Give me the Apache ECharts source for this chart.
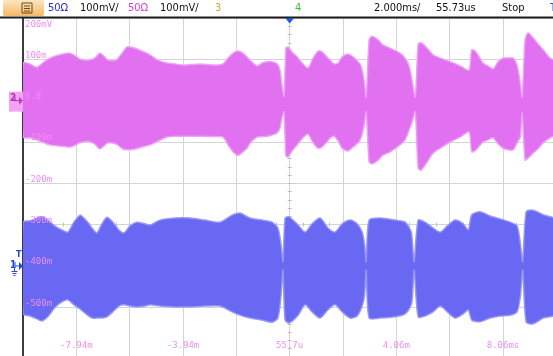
<!DOCTYPE html>
<html>
<head>
<meta charset="utf-8">
<script src="https://cdn.jsdelivr.net/npm/echarts@6.0.0/dist/echarts.min.js"></script>
<style>
html, body { margin: 0; padding: 0; background: #ffffff; overflow: hidden; }
/* the graticule runs past the bottom and right edge of the screen */
#scope { width: 560px; height: 440px; }
</style>
</head>
<body>
<div id="scope"></div>
<script>
// Time in ms relative to the screen centre (2 ms/div, 10 divisions)
const ch2Time = [-10.00,-9.74,-9.48,-9.21,-8.99,-8.62,-8.24,-8.02,-7.87,-7.57,-7.31,-7.12,-6.97,-6.81,-6.51,-6.25,-6.10,-5.80,-5.54,-5.24,-4.94,-4.60,-4.30,-4.00,-3.36,-2.80,-2.50,-2.31,-2.12,-1.94,-1.75,-1.60,-1.45,-1.22,-1.04,-0.85,-0.66,-0.47,-0.36,-0.29,-0.21,-0.14,-0.06,0.09,0.28,0.50,0.69,0.88,1.07,1.22,1.37,1.52,1.67,1.82,1.97,2.19,2.38,2.57,2.68,2.79,2.87,2.98,3.09,3.32,3.50,3.77,4.14,4.33,4.48,4.59,4.71,4.82,4.93,5.16,5.38,5.65,6.02,6.40,6.73,6.83,6.99,7.25,7.44,7.63,7.82,8.00,8.19,8.38,8.53,8.65,8.72,8.83,8.94,9.13,9.28,9.51,9.77,10.00];
// Channel 2 envelope, mV
const ch2Upper = [91,89,81,94,103,111,115,108,101,98,103,115,108,98,98,118,130,127,120,111,98,91,89,86,89,86,89,103,115,120,115,106,96,84,91,94,94,89,74,38,11,127,130,118,106,89,79,103,120,118,108,98,89,91,106,113,106,94,84,50,9,147,156,147,135,127,115,103,84,50,9,137,140,127,111,103,94,84,74,123,118,91,84,77,94,103,103,103,86,43,9,147,164,152,140,123,103,94];
const ch2Lower = [-88,-90,-95,-102,-107,-110,-112,-107,-102,-98,-105,-117,-110,-102,-105,-117,-119,-117,-112,-107,-98,-88,-86,-86,-86,-87,-88,-107,-124,-132,-124,-115,-100,-88,-87,-86,-83,-78,-66,-42,-27,-134,-136,-122,-107,-90,-81,-102,-115,-112,-102,-90,-86,-98,-115,-122,-112,-102,-90,-61,-27,-148,-153,-144,-132,-124,-107,-95,-71,-52,-27,-163,-168,-148,-127,-115,-100,-88,-76,-124,-119,-100,-95,-90,-105,-115,-119,-119,-102,-88,-30,-144,-139,-127,-119,-102,-90,-81];

const ch1Time = [-10.00,-9.74,-9.48,-9.29,-9.07,-8.81,-8.54,-8.32,-8.09,-7.86,-7.64,-7.41,-7.23,-7.04,-6.85,-6.63,-6.40,-6.21,-5.99,-5.73,-5.43,-5.24,-4.86,-4.30,-3.74,-3.18,-2.61,-2.16,-1.86,-1.49,-1.04,-0.66,-0.44,-0.32,-0.25,-0.17,-0.02,0.32,0.58,0.84,1.14,1.44,1.70,1.97,2.27,2.53,2.72,2.81,2.87,2.98,3.39,3.96,4.33,4.56,4.61,4.67,4.82,5.08,5.38,5.65,5.91,6.21,6.51,6.70,6.83,7.14,7.52,7.89,8.27,8.53,8.66,8.74,8.87,9.13,9.51,10.00];
// Channel 1 envelope, mV (on the 100 mV/div graticule)
const ch1Upper = [-294,-291,-284,-281,-289,-303,-313,-318,-294,-277,-289,-308,-320,-298,-282,-294,-313,-320,-303,-294,-298,-301,-289,-284,-284,-289,-294,-277,-272,-284,-289,-294,-308,-349,-390,-284,-281,-301,-318,-298,-284,-308,-318,-298,-289,-298,-318,-349,-390,-289,-284,-289,-294,-318,-349,-390,-289,-294,-308,-318,-303,-289,-298,-313,-276,-269,-279,-286,-294,-303,-349,-390,-269,-265,-276,-289];
const ch1Lower = [-516,-521,-528,-533,-523,-501,-487,-482,-494,-504,-516,-526,-526,-526,-523,-511,-497,-494,-497,-499,-497,-494,-497,-499,-499,-497,-497,-511,-519,-526,-531,-536,-526,-470,-410,-531,-538,-519,-494,-511,-526,-506,-494,-511,-526,-521,-497,-470,-410,-526,-526,-523,-516,-494,-470,-410,-523,-521,-511,-497,-511,-526,-516,-506,-531,-535,-526,-521,-519,-511,-470,-410,-536,-540,-526,-516];

// Graticule labels
const xLabelAt = [-8, -4, 0, 4, 8];
const xLabelText = ['-7.94m', '-3.94m', '55.7u', '4.06m', '8.06ms'];
const yLabelAt = [200, 100, 0, -100, -200, -300, -400, -500];
const yLabelText = ['200mV', '100m', '0.0', '-100m', '-200m', '-300m', '-400m', '-500m'];

const PINK = '#f08ef0';
const GRID = '#d4d4d4';
const monoFont = '"DejaVu Sans Mono", "Liberation Mono", monospace';
const barFont = '"Liberation Sans Narrow", "DejaVu Sans Condensed", "Liberation Sans", sans-serif';

// Graticule: 10 x 10 divisions, the lowest two rows run past the window
const Y_MIN = -800, Y_MAX = 200;
const DIV_PX_X = 53.33, DIV_PX_Y = 41.33;
// horizontal graticule lines drawn only down to -500 mV
const hLineColors = [];
for (let v = Y_MIN; v <= Y_MAX; v += 100) hLineColors.push(v < -500 ? 'rgba(0,0,0,0)' : GRID);

function envelope(name, t, up, lo, fill, edge) {
  return {
    type: 'custom',
    name: name,
    xAxisIndex: 0,
    yAxisIndex: 0,
    clip: true,
    z: 3,
    encode: { x: 0, y: [1, 2] },
    data: t.map((v, i) => [v, up[i], lo[i]]),
    renderItem: function (params, api) {
      if (params.dataIndex !== 0) return null;
      const pts = [];
      for (let i = 0; i < t.length; i++) pts.push(api.coord([t[i], up[i]]));
      for (let i = t.length - 1; i >= 0; i--) pts.push(api.coord([t[i], lo[i]]));
      return {
        type: 'polygon',
        shape: { points: pts, smooth: 0.25 },
        style: { fill: fill, stroke: edge, lineWidth: 1.5, lineJoin: 'round' }
      };
    }
  };
}

const chart = echarts.init(document.getElementById('scope'), null, { renderer: 'canvas' });

const tickAxisX = (inside) => ({
  type: 'value', min: -10, max: 10, interval: 0.5, position: 'bottom',
  axisLine: { show: false, onZero: true, onZeroAxisIndex: 1 },
  axisTick: { show: true, inside: inside, length: 2, lineStyle: { color: '#bdbdbd' } },
  axisLabel: { show: false }, splitLine: { show: false }
});
const tickAxisY = (inside) => ({
  type: 'value', min: Y_MIN, max: Y_MAX, interval: 20, position: 'left',
  axisLine: { show: false, onZero: true, onZeroAxisIndex: 0 },
  axisTick: { show: true, inside: inside, length: 2, lineStyle: { color: '#bdbdbd' } },
  axisLabel: { show: false }, splitLine: { show: false }
});

chart.setOption({
  animation: false,
  backgroundColor: '#ffffff',
  grid: { left: 23, top: 18, width: DIV_PX_X * 10, height: DIV_PX_Y * 10 },
  xAxis: [
    {
      type: 'value', min: -10, max: 10, interval: 2, position: 'bottom',
      offset: -DIV_PX_Y * 2,
      axisLine: { show: false, onZero: false },
      axisTick: { show: false },
      splitLine: { show: true, lineStyle: { color: GRID, width: 1 } },
      axisLabel: {
        show: true, inside: true, margin: -2, color: PINK,
        fontFamily: monoFont, fontSize: 9,
        formatter: (v) => {
          const k = xLabelAt.indexOf(Math.round(v * 100) / 100);
          return k >= 0 ? xLabelText[k] : '';
        }
      }
    },
    tickAxisX(true),
    tickAxisX(false)
  ],
  yAxis: [
    {
      type: 'value', min: Y_MIN, max: Y_MAX, interval: 100, position: 'left',
      axisLine: { show: true, onZero: false, lineStyle: { color: '#3c3c3c', width: 2 } },
      axisTick: { show: false },
      axisLabel: { show: false },
      splitLine: { show: true, lineStyle: { color: hLineColors, width: 1 } }
    },
    {
      type: 'value', min: -500, max: 500, position: 'left', show: false,
      axisLine: { onZero: false }
    },
    {
      type: 'value', min: Y_MIN, max: Y_MAX, interval: 100, position: 'left', z: 10,
      axisLine: { show: false, onZero: false },
      axisTick: { show: false },
      splitLine: { show: false },
      axisLabel: {
        show: true, inside: true, margin: 2, color: PINK,
        fontFamily: monoFont, fontSize: 9, verticalAlign: 'middle',
        formatter: (v) => {
          const k = yLabelAt.indexOf(Math.round(v));
          if (k < 0) return '';
          return k === 0 ? '{top|' + yLabelText[k] + '}' : '{up|' + yLabelText[k] + '}';
        },
        rich: {
          top: { color: PINK, fontFamily: monoFont, fontSize: 9, padding: [13, 0, 0, 0] },
          up: { color: PINK, fontFamily: monoFont, fontSize: 9, padding: [0, 0, 8, 0] }
        }
      }
    },
    tickAxisY(true),
    tickAxisY(false)
  ],
  series: [
    envelope('ch2', ch2Time, ch2Upper, ch2Lower, '#e271f1', 'rgba(236,160,246,0.95)'),
    envelope('ch1', ch1Time, ch1Upper, ch1Lower, '#6868f3', 'rgba(150,150,248,0.95)')
  ]
});

// Status bar, trigger and channel markers
const cx = chart.convertToPixel({ xAxisIndex: 0 }, 0);
const y2 = chart.convertToPixel({ yAxisIndex: 0 }, 0);
const y1 = chart.convertToPixel({ yAxisIndex: 0 }, -400);
const yT = chart.convertToPixel({ yAxisIndex: 0 }, -373);
const barText = (x, s, c) => ({
  type: 'text', x: x, y: 8.5, z: 100,
  style: { text: s, fill: c, font: '11px ' + barFont, verticalAlign: 'middle' }
});
const groundAt = (x, y, c) => ({
  type: 'group', x: x, y: y, z: 100,
  children: [
    { type: 'line', shape: { x1: 0, y1: 0, x2: 0, y2: 3 }, style: { stroke: c, lineWidth: 1 } },
    { type: 'line', shape: { x1: -3, y1: 3.5, x2: 3, y2: 3.5 }, style: { stroke: c, lineWidth: 1 } },
    { type: 'line', shape: { x1: -2, y1: 5.5, x2: 2, y2: 5.5 }, style: { stroke: c, lineWidth: 1 } },
    { type: 'line', shape: { x1: -1, y1: 7.5, x2: 1, y2: 7.5 }, style: { stroke: c, lineWidth: 1 } }
  ]
});

chart.setOption({
  graphic: [
    { type: 'rect', shape: { x: 0, y: 0, width: 560, height: 17 }, style: { fill: '#ffffff' }, z: 90 },
    { type: 'line', shape: { x1: 0, y1: 17.5, x2: 560, y2: 17.5 }, style: { stroke: '#1e1e1e', lineWidth: 2 }, z: 91 },
    {
      type: 'rect', shape: { x: 3, y: 0, width: 41, height: 16, r: 2 }, z: 95,
      style: { fill: new echarts.graphic.LinearGradient(0, 0, 0, 1, [
        { offset: 0, color: '#fde6c2' }, { offset: 1, color: '#f6b866' }]) }
    },
    { type: 'rect', shape: { x: 22, y: 3, width: 10, height: 10 }, style: { fill: 'none', stroke: '#6b4a1c', lineWidth: 1 }, z: 96 },
    { type: 'line', shape: { x1: 24, y1: 6, x2: 30, y2: 6 }, style: { stroke: '#6b4a1c', lineWidth: 1 }, z: 96 },
    { type: 'line', shape: { x1: 24, y1: 8.5, x2: 30, y2: 8.5 }, style: { stroke: '#6b4a1c', lineWidth: 1 }, z: 96 },
    { type: 'line', shape: { x1: 24, y1: 11, x2: 30, y2: 11 }, style: { stroke: '#6b4a1c', lineWidth: 1 }, z: 96 },
    barText(48, '50Ω', '#2b2be6'),
    barText(80, '100mV/', '#111111'),
    barText(128, '50Ω', '#dd3ddd'),
    barText(160, '100mV/', '#111111'),
    barText(215, '3', '#d9a43a'),
    barText(295, '4', '#33c833'),
    barText(374, '2.000ms/', '#111111'),
    barText(436, '55.73us', '#111111'),
    barText(502, 'Stop', '#111111'),
    barText(550, 'T', '#2a5ad8'),
    // trigger position
    { type: 'polygon', z: 100, shape: { points: [[cx - 4.5, 18], [cx + 4.5, 18], [cx, 23.5]] }, style: { fill: '#1f5ad6' } },
    // channel 2 marker
    { type: 'rect', z: 100, shape: { x: 9, y: y2 - 9, width: 14, height: 20 }, style: { fill: '#f2a4f2' } },
    { type: 'text', z: 101, x: 10, y: y2 - 2, style: { text: '2', fill: '#b62fb6', font: 'bold 10px ' + barFont, verticalAlign: 'middle' } },
    { type: 'polygon', z: 101, shape: { points: [[19, y2 - 4], [23, y2], [19, y2 + 4]] }, style: { fill: '#c23cc2' } },
    { type: 'line', z: 101, shape: { x1: 15, y1: y2 - 4, x2: 15, y2: y2 }, style: { stroke: '#b62fb6', lineWidth: 1 } },
    { type: 'line', z: 101, shape: { x1: 15, y1: y2, x2: 19, y2: y2 }, style: { stroke: '#b62fb6', lineWidth: 1 } },
    groundAt(14.5, y2 + 2, '#b62fb6'),
    // channel 1 marker with trigger level
    { type: 'text', z: 101, x: 10, y: y1 - 1, style: { text: '1', fill: '#2348d6', font: 'bold 10px ' + barFont, verticalAlign: 'middle' } },
    { type: 'text', z: 101, x: 16, y: yT, style: { text: 'T', fill: '#2348d6', font: 'bold 9px ' + barFont, verticalAlign: 'middle' } },
    { type: 'polygon', z: 101, shape: { points: [[19, y1 - 4], [23, y1], [19, y1 + 4]] }, style: { fill: '#2348d6' } },
    { type: 'line', z: 101, shape: { x1: 15, y1: y1 - 4, x2: 15, y2: y1 }, style: { stroke: '#2348d6', lineWidth: 1 } },
    { type: 'line', z: 101, shape: { x1: 15, y1: y1, x2: 19, y2: y1 }, style: { stroke: '#2348d6', lineWidth: 1 } },
    groundAt(14.5, y1 + 2, '#2348d6')
  ]
});
</script>
</body>
</html>
